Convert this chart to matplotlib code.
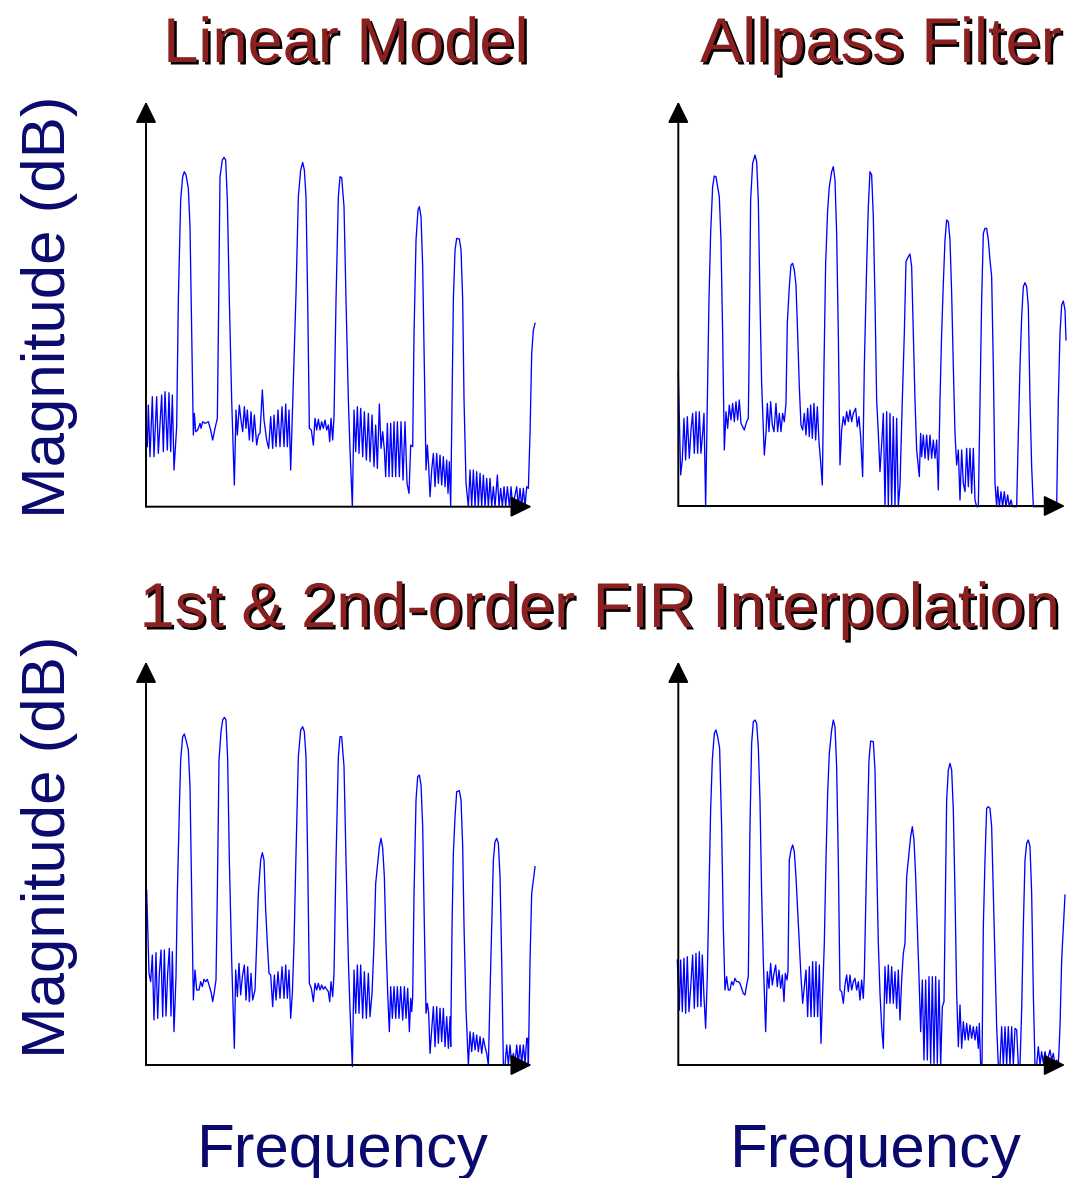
import matplotlib
matplotlib.use("Agg")
import numpy as np
import matplotlib.pyplot as plt
import matplotlib.patheffects as pe

plt.rcParams["font.family"] = ["Liberation Sans", "DejaVu Sans"]

# (frequency bin, magnitude dB)
linear_model = [
    (22, -104.0), (25, -91.5), (30, -107.0), (37, -89.0), (42, -107.0), (50, -89.0), (55, -106.0),
    (65, -88.5), (70, -105.5), (75, -87.5), (82, -105.0), (87, -87.8), (92, -105.5), (97, -88.5),
    (102, -111.0), (110, -98.0), (115, -60.0), (122, -30.0), (128, -23.0), (133, -21.5), (138, -22.5),
    (145, -26.5), (150, -38.0), (155, -70.0), (160, -100.5), (163, -94.0), (167, -99.5), (173, -99.0),
    (180, -97.0), (183, -98.5), (188, -96.5), (195, -97.0), (205, -96.5), (212, -99.0), (218, -102.0),
    (225, -98.5), (232, -95.5), (235, -70.0), (240, -23.0), (247, -18.0), (252, -17.2), (257, -18.0),
    (262, -30.0), (268, -60.0), (275, -90.0), (283, -115.5), (288, -93.0), (292, -100.5), (298, -91.5),
    (303, -96.0), (308, -99.5), (313, -92.0), (318, -98.5), (322, -93.0), (328, -102.0), (333, -93.5),
    (338, -102.5), (343, -94.5), (350, -103.5), (355, -100.5), (360, -100.0), (367, -87.0), (372, -96.0),
    (380, -102.0), (386, -104.5), (392, -95.0), (398, -104.5), (402, -94.5), (408, -104.0), (414, -93.0),
    (420, -104.0), (426, -92.0), (432, -104.0), (437, -91.2), (442, -104.0), (447, -93.0), (452, -111.0),
    (460, -85.0), (468, -58.0), (475, -29.0), (482, -21.0), (488, -18.7), (493, -21.0), (498, -29.0),
    (503, -60.0), (508, -98.5), (514, -99.0), (520, -103.5), (525, -95.5), (530, -99.0), (535, -95.8),
    (540, -99.0), (545, -96.5), (550, -98.5), (555, -96.0), (560, -99.0), (565, -97.5), (569, -102.5),
    (573, -95.5), (578, -102.0), (582, -95.0), (588, -60.0), (595, -29.0), (600, -23.0), (605, -23.3),
    (612, -32.0), (618, -60.0), (625, -90.0), (630, -105.0), (637, -122.0), (642, -93.0), (647, -105.5),
    (652, -92.0), (657, -106.0), (662, -92.5), (668, -107.0), (673, -93.5), (679, -108.0), (685, -94.0),
    (690, -108.5), (696, -94.5), (702, -110.0), (707, -97.5), (712, -110.5), (718, -91.2), (723, -104.5),
    (728, -99.5), (733, -105.0), (737, -113.0), (742, -97.0), (747, -113.0), (752, -97.0), (757, -113.0),
    (762, -96.5), (767, -113.0), (772, -96.5), (778, -113.0), (783, -96.5), (789, -114.0), (795, -96.5),
    (801, -115.0), (807, -118.0), (812, -103.5), (818, -104.0), (822, -70.0), (828, -42.0), (834, -33.0),
    (838, -32.0), (843, -35.0), (848, -50.0), (853, -80.0), (858, -111.0), (862, -103.5), (866, -110.0),
    (870, -119.0), (875, -111.0), (880, -106.0), (885, -116.0), (890, -106.0), (895, -115.0), (900, -106.5),
    (905, -115.5), (910, -107.0), (915, -116.0), (920, -108.0), (924, -118.0), (928, -108.5), (932, -122.0),
    (936, -90.0), (940, -60.0), (945, -45.0), (950, -41.5), (958, -41.7), (963, -45.0), (968, -60.0),
    (972, -90.0), (978, -115.0), (985, -122.0), (990, -111.0), (995, -122.0), (1000, -111.0), (1005, -122.0),
    (1010, -111.5), (1015, -122.0), (1020, -112.0), (1025, -122.0), (1030, -112.5), (1035, -122.0),
    (1040, -113.5), (1045, -122.0), (1050, -113.5), (1055, -122.0), (1060, -116.0), (1065, -122.0),
    (1072, -112.5), (1077, -122.0), (1082, -116.5), (1087, -122.0), (1092, -116.0), (1097, -122.0),
    (1102, -116.0), (1108, -122.0), (1113, -116.0), (1118, -122.0), (1130, -116.0), (1135, -122.0),
    (1140, -116.5), (1145, -122.0), (1150, -116.5), (1155, -122.0), (1160, -116.0), (1165, -116.5),
    (1170, -100.0), (1175, -76.0), (1180, -69.0), (1185, -67.0),
]

allpass_filter = [
    (25, -81.5), (32, -112.5), (37, -108.0), (42, -95.5), (47, -108.0), (52, -95.0), (58, -107.5),
    (63, -99.0), (68, -94.0), (73, -106.0), (78, -93.5), (83, -106.0), (88, -93.5), (93, -106.0),
    (98, -100.0), (102, -94.0), (107, -122.0), (112, -90.0), (117, -60.0), (122, -40.0), (128, -26.0),
    (133, -22.8), (138, -23.0), (143, -26.0), (148, -29.0), (153, -42.0), (158, -70.0), (163, -105.0),
    (168, -93.5), (173, -98.5), (178, -91.5), (183, -96.0), (188, -91.0), (193, -96.5), (198, -90.5),
    (203, -96.0), (208, -90.0), (213, -97.0), (218, -98.0), (223, -99.0), (230, -96.5), (235, -95.5),
    (237, -80.0), (242, -30.0), (248, -19.0), (255, -16.5), (260, -18.5), (265, -30.0), (270, -60.0),
    (275, -85.0), (280, -98.0), (283, -106.5), (288, -100.0), (292, -91.0), (297, -99.5), (302, -90.5),
    (307, -97.5), (312, -99.5), (318, -91.0), (323, -99.5), (328, -94.0), (333, -99.5), (338, -94.0),
    (343, -96.5), (348, -91.0), (352, -67.0), (358, -56.0), (363, -49.5), (368, -49.0), (373, -51.0),
    (378, -55.5), (383, -70.0), (388, -86.0), (393, -97.5), (398, -99.0), (403, -94.0), (408, -100.5),
    (413, -92.5), (418, -101.0), (422, -91.5), (427, -101.5), (432, -91.0), (437, -102.0), (442, -92.0),
    (447, -102.5), (452, -108.5), (457, -115.5), (462, -80.0), (467, -49.0), (473, -33.0), (478, -26.0),
    (485, -21.5), (490, -20.0), (495, -24.0), (500, -40.0), (505, -70.0), (510, -109.5), (515, -99.0),
    (520, -95.0), (525, -97.5), (530, -93.5), (535, -96.5), (540, -93.0), (545, -96.5), (550, -94.0),
    (557, -92.5), (562, -98.0), (567, -95.0), (572, -101.0), (578, -113.0), (583, -80.0), (590, -50.0),
    (595, -32.0), (600, -21.5), (605, -22.5), (610, -35.0), (615, -60.0), (620, -90.0), (625, -100.0),
    (630, -111.5), (637, -100.0), (640, -94.0), (645, -122.0), (650, -93.5), (655, -122.0), (660, -94.0),
    (665, -122.0), (670, -95.0), (675, -122.0), (680, -95.5), (685, -122.0), (690, -115.5), (697, -90.0),
    (703, -70.0), (708, -48.5), (715, -47.0), (720, -46.2), (725, -50.0), (730, -70.0), (735, -90.0),
    (740, -105.0), (748, -113.0), (752, -100.0), (755, -107.0), (760, -100.5), (765, -107.5), (770, -100.5),
    (775, -108.0), (780, -100.5), (785, -107.5), (790, -102.0), (795, -107.5), (800, -102.0), (805, -117.0),
    (810, -90.0), (815, -70.0), (820, -55.0), (825, -42.0), (830, -36.0), (835, -36.5), (840, -42.0),
    (845, -58.0), (850, -80.0), (855, -100.0), (860, -109.5), (865, -105.0), (870, -120.0), (875, -105.0),
    (880, -115.0), (885, -117.5), (890, -104.5), (895, -116.0), (900, -104.5), (905, -118.0), (910, -104.5),
    (915, -120.0), (920, -122.0), (925, -122.0), (930, -90.0), (935, -60.0), (940, -40.0), (945, -38.5),
    (950, -38.5), (955, -42.0), (960, -48.0), (965, -53.0), (970, -80.0), (975, -115.0), (980, -122.0),
    (983, -116.0), (988, -122.0), (993, -117.5), (998, -122.0), (1003, -117.5), (1008, -122.0),
    (1013, -118.5), (1018, -122.0), (1023, -120.0), (1028, -122.0), (1040, -122.0), (1045, -100.0),
    (1050, -80.0), (1055, -65.0), (1060, -56.0), (1065, -54.8), (1070, -56.0), (1075, -62.0), (1080, -90.0),
    (1085, -110.0), (1090, -122.0), (1160, -122.0), (1165, -90.0), (1170, -70.0), (1175, -61.5),
    (1180, -60.3), (1185, -63.0), (1188, -72.0),
]

fir_1st = [
    (20, -69.0), (27, -94.0), (32, -96.5), (37, -88.5), (42, -108.0), (48, -87.8), (53, -107.5),
    (58, -94.0), (63, -87.0), (68, -107.0), (73, -87.0), (78, -106.8), (83, -94.0), (88, -86.5),
    (93, -106.8), (97, -87.5), (102, -111.5), (108, -95.0), (112, -70.0), (118, -45.0), (122, -30.0),
    (128, -23.0), (133, -22.2), (138, -24.0), (145, -27.0), (150, -38.0), (155, -70.0), (160, -102.0),
    (165, -93.0), (170, -99.0), (177, -99.0), (182, -96.5), (187, -98.0), (192, -95.8), (197, -96.5),
    (202, -95.8), (205, -96.8), (210, -98.5), (214, -100.0), (218, -102.5), (223, -99.5), (228, -96.0),
    (232, -70.0), (237, -30.0), (243, -21.5), (248, -18.0), (253, -17.2), (258, -18.0), (263, -30.0),
    (268, -60.0), (275, -90.0), (283, -116.5), (287, -93.0), (292, -101.0), (297, -91.0), (302, -100.5),
    (307, -95.0), (313, -91.5), (318, -102.0), (323, -92.0), (328, -102.5), (333, -94.0), (338, -102.0),
    (345, -99.0), (350, -85.0), (355, -70.0), (362, -60.0), (367, -57.8), (372, -60.0), (377, -75.0),
    (382, -85.0), (387, -94.0), (392, -94.5), (398, -104.0), (403, -94.5), (408, -102.0), (414, -93.5),
    (420, -101.5), (426, -92.0), (432, -101.5), (437, -91.5), (442, -101.5), (447, -93.0), (452, -107.5),
    (457, -100.0), (462, -85.0), (468, -58.0), (475, -29.0), (482, -21.0), (488, -20.0), (493, -21.5),
    (498, -29.0), (503, -60.0), (508, -97.0), (514, -98.5), (520, -102.5), (525, -97.0), (530, -99.0),
    (535, -97.0), (540, -99.0), (545, -97.5), (550, -98.8), (555, -98.0), (560, -98.8), (565, -99.5),
    (569, -102.5), (573, -96.5), (578, -101.0), (582, -94.0), (588, -60.0), (595, -29.0), (600, -23.0),
    (605, -23.0), (612, -32.0), (618, -60.0), (625, -90.0), (630, -105.0), (637, -122.0), (642, -93.0),
    (647, -106.0), (652, -91.5), (657, -106.0), (662, -91.5), (668, -107.5), (673, -93.5), (679, -107.5),
    (685, -94.0), (690, -107.0), (696, -100.0), (702, -85.0), (707, -67.0), (712, -62.0), (718, -56.0),
    (723, -53.5), (728, -56.5), (733, -65.0), (738, -85.0), (743, -100.0), (748, -111.5), (752, -98.0),
    (757, -107.5), (762, -98.0), (767, -107.5), (772, -98.0), (777, -107.5), (782, -98.0), (788, -108.0),
    (793, -98.0), (798, -107.5), (803, -98.5), (808, -111.5), (812, -101.5), (815, -105.5), (818, -101.0),
    (822, -70.0), (828, -42.0), (833, -35.0), (838, -34.5), (843, -37.5), (848, -50.0), (853, -80.0),
    (858, -106.0), (862, -103.0), (866, -106.0), (870, -118.0), (875, -111.0), (880, -104.0), (885, -116.0),
    (890, -104.0), (895, -115.0), (900, -104.5), (905, -114.5), (910, -104.5), (915, -116.0), (920, -107.0),
    (925, -116.5), (930, -107.0), (932, -116.0), (936, -80.0), (940, -58.0), (945, -47.0), (950, -39.5),
    (958, -39.2), (963, -42.0), (968, -56.0), (972, -80.0), (978, -105.0), (985, -121.5), (990, -111.5),
    (995, -117.5), (1000, -111.8), (1005, -117.0), (1010, -112.5), (1015, -117.5), (1020, -113.0),
    (1025, -118.0), (1030, -113.5), (1035, -116.0), (1040, -118.0), (1045, -121.5), (1050, -100.0),
    (1055, -80.0), (1060, -60.0), (1065, -54.5), (1070, -53.5), (1075, -55.0), (1080, -65.0), (1085, -90.0),
    (1090, -121.5), (1095, -121.5), (1100, -115.5), (1105, -121.5), (1110, -115.5), (1115, -121.5),
    (1120, -118.0), (1125, -121.0), (1130, -115.5), (1135, -121.0), (1140, -115.5), (1145, -121.0),
    (1150, -115.5), (1155, -121.0), (1160, -113.5), (1163, -113.5), (1165, -121.5), (1170, -90.0),
    (1175, -70.0), (1180, -66.0), (1185, -62.0),
]

fir_2nd = [
    (22, -90.0), (28, -105.0), (32, -90.0), (37, -105.5), (42, -89.5), (47, -106.0), (52, -89.0),
    (57, -105.5), (62, -98.5), (68, -88.5), (73, -104.5), (78, -88.0), (83, -104.0), (88, -87.5),
    (93, -104.0), (97, -88.5), (102, -101.0), (107, -110.5), (112, -95.0), (117, -70.0), (122, -45.0),
    (127, -30.0), (133, -22.0), (138, -21.0), (143, -23.0), (149, -26.5), (155, -50.0), (160, -80.0),
    (165, -99.0), (170, -95.0), (175, -99.0), (180, -99.0), (185, -96.5), (190, -97.5), (195, -95.5),
    (200, -96.5), (205, -96.5), (210, -97.0), (215, -98.5), (220, -100.0), (225, -100.5), (230, -97.5),
    (235, -95.0), (240, -50.0), (245, -25.0), (250, -18.5), (255, -18.0), (260, -19.0), (265, -26.0),
    (270, -42.0), (275, -70.0), (280, -90.0), (287, -111.5), (292, -93.5), (297, -98.5), (302, -91.0),
    (307, -97.5), (312, -94.0), (317, -91.5), (322, -98.0), (327, -93.0), (332, -98.5), (337, -94.5),
    (342, -102.5), (346, -94.0), (351, -96.0), (354, -93.5), (358, -60.0), (363, -57.0), (368, -55.5),
    (373, -57.5), (378, -65.0), (383, -75.0), (388, -85.0), (393, -95.0), (398, -103.0), (403, -98.0),
    (408, -93.0), (413, -107.0), (418, -92.0), (423, -107.0), (428, -90.5), (433, -107.0), (438, -90.5),
    (443, -107.0), (448, -91.5), (453, -115.0), (458, -100.0), (463, -85.0), (468, -60.0), (473, -40.0),
    (478, -28.0), (485, -21.0), (490, -18.0), (495, -20.0), (500, -32.0), (505, -60.0), (510, -99.0),
    (515, -99.5), (520, -103.0), (525, -97.5), (530, -94.5), (535, -99.5), (540, -94.5), (545, -99.0),
    (550, -96.5), (555, -95.5), (560, -99.0), (565, -96.5), (570, -102.0), (575, -96.0), (580, -101.5),
    (583, -94.5), (590, -60.0), (597, -30.0), (602, -24.3), (610, -24.5), (615, -33.0), (620, -60.0),
    (625, -85.0), (630, -100.0), (635, -110.0), (640, -116.5), (645, -92.0), (650, -103.0), (655, -91.5),
    (660, -103.0), (665, -92.0), (670, -103.0), (675, -93.5), (680, -104.5), (685, -93.0), (690, -108.0),
    (695, -96.0), (700, -88.0), (705, -85.0), (710, -65.0), (715, -60.0), (722, -53.0), (727, -50.0),
    (732, -54.0), (737, -65.0), (742, -80.0), (747, -95.0), (752, -111.5), (757, -96.0), (762, -120.0),
    (767, -96.0), (772, -120.0), (777, -95.0), (782, -121.0), (787, -95.0), (792, -121.0), (797, -95.0),
    (802, -121.0), (807, -96.0), (812, -121.5), (817, -104.0), (822, -102.5), (825, -80.0), (830, -42.0),
    (835, -33.0), (840, -31.0), (845, -33.0), (850, -45.0), (855, -70.0), (860, -100.0), (865, -116.0),
    (870, -103.5), (875, -116.5), (880, -108.5), (885, -114.0), (890, -109.0), (895, -114.0), (900, -109.5),
    (905, -113.5), (910, -110.0), (915, -114.0), (920, -110.0), (925, -116.5), (928, -109.0), (932, -121.5),
    (936, -121.5), (940, -80.0), (945, -60.0), (950, -44.5), (955, -44.0), (960, -44.5), (965, -50.0),
    (970, -70.0), (975, -90.0), (980, -110.0), (985, -121.5), (990, -121.5), (995, -110.0), (1000, -121.5),
    (1005, -110.0), (1010, -121.5), (1015, -110.0), (1020, -121.5), (1025, -110.0), (1030, -121.5),
    (1035, -110.5), (1040, -111.0), (1045, -121.5), (1050, -121.5), (1055, -105.0), (1060, -80.0),
    (1065, -60.0), (1070, -55.0), (1075, -54.0), (1080, -56.0), (1085, -70.0), (1090, -100.0),
    (1095, -121.5), (1100, -121.5), (1105, -116.0), (1110, -121.5), (1115, -117.5), (1120, -121.0),
    (1125, -117.5), (1130, -120.0), (1135, -119.0), (1140, -117.0), (1145, -120.0), (1150, -118.0),
    (1155, -121.5), (1160, -120.0), (1165, -121.5), (1170, -110.0), (1175, -90.0), (1180, -80.0),
    (1185, -70.5),
]

TITLE_RED = "#8B2020"
NAVY = "#0A0A6E"
W, H = 1081, 1178

fig = plt.figure(figsize=(W / 100, H / 100), dpi=100)


def px_axes(x0, x1, ytop, ybot):
    return fig.add_axes([x0 / W, 1 - ybot / H, (x1 - x0) / W, (ybot - ytop) / H])


panels = [
    (linear_model, (146, 531.7, 101.7, 506.7), (18, 1175), (-122.0, -0.5)),
    (allpass_filter, (678.3, 1065, 101.7, 506.0), (25, 1185), (-121.8, -0.5)),
    (fir_1st, (146, 531.7, 661.7, 1065), (18, 1175), (-121.5, -0.5)),
    (fir_2nd, (678.3, 1065, 661.7, 1065), (25, 1185), (-121.5, -0.5)),
]

for data, box, xl, yl in panels:
    ax = px_axes(*box)
    f, m = np.array(data).T
    ax.plot(f, m, color="#0000FF", lw=0.95, clip_on=False, zorder=2)
    ax.set_xlim(*xl)
    ax.set_ylim(*yl)
    ax.axis("off")
    arrow = dict(arrowstyle="-|>,head_length=0.65,head_width=0.32", color="black",
                 lw=1.4, mutation_scale=20, shrinkA=0, shrinkB=0)
    ax.annotate("", xy=(1, 0), xytext=(0, 0), xycoords="axes fraction",
                textcoords="axes fraction", arrowprops=arrow, zorder=3)
    ax.annotate("", xy=(0, 1), xytext=(0, 0), xycoords="axes fraction",
                textcoords="axes fraction", arrowprops=arrow, zorder=3)

shadow = [pe.SimplePatchShadow(offset=(1.8, -1.8), shadow_rgbFace="black", alpha=1.0), pe.Normal()]
title_kw = dict(fontsize=45.5, color=TITLE_RED, ha="center", va="baseline", path_effects=shadow)
fig.text(346 / W, 1 - 62 / H, "Linear Model", **title_kw)
fig.text(881 / W, 1 - 62 / H, "Allpass Filter", **title_kw)
fig.text(600 / W, 1 - 627 / H, "1st & 2nd-order FIR Interpolation", **title_kw)

label_kw = dict(fontsize=44.5, color=NAVY)
fig.text(343 / W, 1 - 1167 / H, "Frequency", ha="center", va="baseline", **label_kw)
fig.text(876 / W, 1 - 1167 / H, "Frequency", ha="center", va="baseline", **label_kw)
fig.text(50 / W, 1 - 307 / H, "Magnitude (dB)", rotation=90, ha="center", va="center", **label_kw)
fig.text(50 / W, 1 - 847 / H, "Magnitude (dB)", rotation=90, ha="center", va="center", **label_kw)

fig.savefig("out.png", dpi=100)
